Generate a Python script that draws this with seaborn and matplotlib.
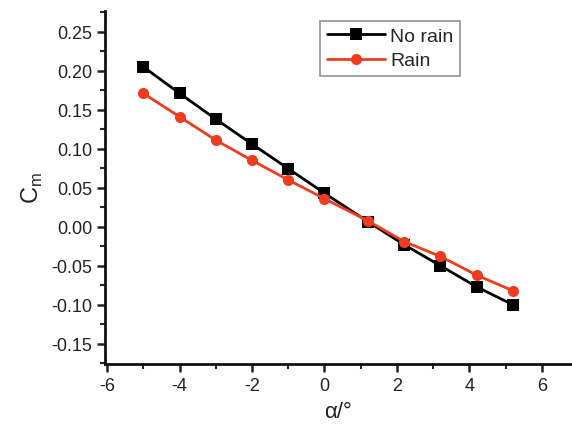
import matplotlib
matplotlib.use("Agg")
import matplotlib.pyplot as plt
import seaborn as sns
import pandas as pd
from matplotlib.ticker import MultipleLocator

alpha = [-5, -4, -3, -2, -1, 0, 1.2, 2.2, 3.2, 4.2, 5.2]
no_rain = [0.205, 0.171, 0.138, 0.106, 0.0745, 0.043, 0.0065, -0.023, -0.050, -0.077, -0.100]
rain = [0.171, 0.141, 0.111, 0.085, 0.060, 0.036, 0.0075, -0.019, -0.038, -0.062, -0.082]
series = ["No rain", "Rain"]

sns.set_theme(style="ticks")
plt.rcParams['font.family'] = ['Liberation Sans', 'DejaVu Sans']
plt.rcParams['mathtext.fontset'] = 'custom'
plt.rcParams['mathtext.rm'] = 'Liberation Sans'

df = pd.concat([
    pd.DataFrame({"alpha": alpha, "Cm": no_rain, "case": series[0]}),
    pd.DataFrame({"alpha": alpha, "Cm": rain, "case": series[1]}),
])

fig = plt.figure(figsize=(5.72, 4.31), dpi=100)
ax = fig.add_axes([0.184, 0.153, 0.814, 0.82])
palette = {"No rain": "#000000", "Rain": "#f03c1e"}
sns.lineplot(data=df, x="alpha", y="Cm", hue="case", style="case",
             markers={"No rain": "s", "Rain": "o"}, dashes=False,
             palette=palette, linewidth=2, markersize=8, markeredgewidth=0,
             ax=ax)

ax.set_xlim(-6.05, 6.8)
ax.set_ylim(-0.176, 0.277)
ax.xaxis.set_major_locator(MultipleLocator(2))
ax.xaxis.set_minor_locator(MultipleLocator(1))
ax.yaxis.set_major_locator(MultipleLocator(0.05))
ax.yaxis.set_minor_locator(MultipleLocator(0.025))
ax.set_yticks([-0.15, -0.10, -0.05, 0.0, 0.05, 0.10, 0.15, 0.20, 0.25])
ax.set_yticklabels([f"{v:.2f}" for v in [-0.15, -0.10, -0.05, 0.0, 0.05, 0.10, 0.15, 0.20, 0.25]])
ax.set_xticks([-6, -4, -2, 0, 2, 4, 6])
ax.set_xticklabels(["-6", "-4", "-2", "0", "2", "4", "6"])
ax.tick_params(which="major", direction="out", length=6, width=1.8, labelsize=13, colors="#222222")
ax.tick_params(which="minor", direction="out", length=3.5, width=1.5)
for s in ["top", "right"]:
    ax.spines[s].set_visible(False)
for s in ["left", "bottom"]:
    ax.spines[s].set_linewidth(2)
    ax.spines[s].set_color("#111111")

ax.set_xlabel("α/°", fontsize=16, labelpad=5, color="#222222")
ax.set_ylabel(r"C$_\mathregular{m}$", fontsize=17, labelpad=4, color="#222222")

leg = ax.legend(title=None, loc="upper left", bbox_to_anchor=(0.462, 0.972),
                fontsize=14, frameon=True, fancybox=False, edgecolor="#777777",
                handlelength=3.0, handletextpad=0.25, borderpad=0.35, labelspacing=0.35,
                borderaxespad=0.0)
leg.get_frame().set_linewidth(1.2)

fig.savefig("out.png", dpi=100)
